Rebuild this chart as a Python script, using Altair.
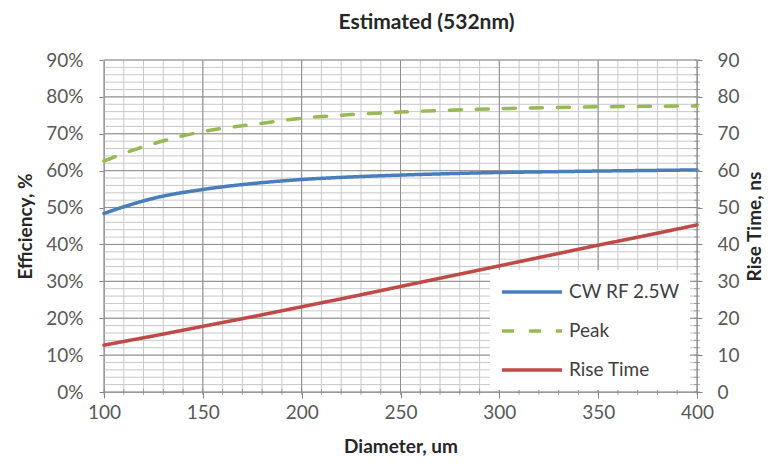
import altair as alt
import pandas as pd

# ---- data ----
diameter = [100, 110, 125, 150, 175, 200, 225, 250, 275, 300, 325, 350, 375, 400]
cw_rf = [0.484, 0.502, 0.525, 0.549, 0.565, 0.576, 0.583, 0.588, 0.592, 0.595, 0.597, 0.599, 0.6005, 0.602]
peak = [0.626, 0.647, 0.673, 0.706, 0.725, 0.742, 0.752, 0.759, 0.764, 0.768, 0.771, 0.773, 0.7745, 0.7755]
rise_time = [12.7, 13.7, 15.2, 17.8, 20.4, 23.1, 25.8, 28.6, 31.4, 34.2, 37.0, 39.8, 42.5, 45.3]

series_names = ["CW RF 2.5W", "Peak", "Rise Time"]
series_colors = ["#4A7EBB", "#98B954", "#BE4B48"]
series_dash = [[1, 0], [12, 15], [1, 0]]

x_major = [100, 150, 200, 250, 300, 350, 400]
x_minor = list(range(100, 401, 10))
y_major = [0.0, 0.1, 0.2, 0.3, 0.4, 0.5, 0.6, 0.7, 0.8, 0.9]
y_minor = [round(i * 0.02, 2) for i in range(46)]
rt_major = [0, 10, 20, 30, 40, 50, 60, 70, 80, 90]
rt_minor = list(range(0, 91, 2))

W, H = 593, 332
FONT = "Lato"
AX = "#868686"
MINOR = "#c8c8c8"
MAJOR = "#8e8e8e"
NBSP = "\u00a0"

eff_df = pd.DataFrame({
    "diameter": diameter * 2,
    "value": cw_rf + peak,
    "series": [series_names[0]] * len(diameter) + [series_names[1]] * len(diameter),
})
rise_df = pd.DataFrame({"diameter": diameter, "rise": rise_time, "series": series_names[2]})

xscale = alt.Scale(domain=[100, 400], nice=False, zero=False)
yscale = alt.Scale(domain=[0, 0.9], nice=False)
rscale = alt.Scale(domain=[0, 90], nice=False)

legend = alt.Legend(labelExpr="datum.label + '" + NBSP * 4 + "'")
color = alt.Color("series:N", scale=alt.Scale(domain=series_names, range=series_colors),
                  title=None, legend=legend)
dash = alt.StrokeDash("series:N", scale=alt.Scale(domain=series_names, range=series_dash),
                      title=None, legend=legend)

x_axis = alt.Axis(values=x_major, title="Diameter, um", format="d", grid=False,
                  labelOverlap=False, labelFlush=False,
                  tickSize=6, labelPadding=5, titleX=W / 2, titleY=54, titleBaseline="middle")
left_axis = alt.Axis(values=y_major, format=".0%", title="Efficiency, %", grid=False,
                     labelOverlap=False, labelFlush=False,
                     tickSize=5, labelPadding=16, titleAngle=270, titleX=-79, titleY=H / 2,
                     titleBaseline="middle", titleAlign="center")
right_axis = alt.Axis(values=rt_major, format="d", title="Rise Time, ns", grid=False, orient="right",
                      labelOverlap=False, labelFlush=False,
                      tickSize=5, labelPadding=15, titleAngle=270, titleX=57, titleY=H / 2,
                      titleBaseline="middle", titleAlign="center")

def vgrid(vals, col):
    return alt.Chart(pd.DataFrame({"diameter": vals})).mark_rule(color=col, strokeWidth=1).encode(
        x=alt.X("diameter:Q", scale=xscale, axis=x_axis))

def hgrid(vals, col):
    return alt.Chart(pd.DataFrame({"value": vals})).mark_rule(color=col, strokeWidth=1).encode(
        y=alt.Y("value:Q", scale=yscale, axis=left_axis))

bottom_minor = alt.Chart(pd.DataFrame({"diameter": x_minor})).mark_tick(
    orient="vertical", size=6, thickness=1, color=AX).encode(
    x=alt.X("diameter:Q", scale=xscale, axis=x_axis), y=alt.value(H))

eff_lines = alt.Chart(eff_df).mark_line(strokeWidth=3.5, strokeCap="round", interpolate="monotone").encode(
    x=alt.X("diameter:Q", scale=xscale, axis=x_axis),
    y=alt.Y("value:Q", scale=yscale, axis=left_axis),
    color=color, strokeDash=dash)

left_group = alt.layer(vgrid(x_minor, MINOR), hgrid(y_minor, MINOR),
                       vgrid(x_major, MAJOR), hgrid(y_major, MAJOR),
                       bottom_minor, eff_lines)

right_minor = alt.Chart(pd.DataFrame({"rise": rt_minor})).mark_tick(
    orient="horizontal", size=6, thickness=1, color=AX).encode(
    y=alt.Y("rise:Q", scale=rscale, axis=right_axis), x=alt.value(W))

rise_line = alt.Chart(rise_df).mark_line(strokeWidth=3.5, strokeCap="round", interpolate="monotone").encode(
    x=alt.X("diameter:Q", scale=xscale, axis=x_axis),
    y=alt.Y("rise:Q", scale=rscale, axis=right_axis),
    color=color, strokeDash=dash)

right_group = alt.layer(right_minor, rise_line)

chart = alt.layer(left_group, right_group).resolve_scale(y="independent").properties(
    width=W, height=H,
    autosize=alt.AutoSizeParams(type="none"),
    padding={"left": 96, "top": 52, "right": 67, "bottom": 65},
    title=alt.TitleParams("Estimated (532nm)", font=FONT, fontSize=21, fontWeight="bold",
                          color="#262626", anchor="middle", frame="group", dx=26, offset=18),
).configure_view(stroke=None).configure_axis(
    grid=False, labelOverlap=False, labelFlush=False,
    labelFont=FONT, labelFontSize=19, labelColor="#595959",
    titleFont=FONT, titleFontSize=19, titleFontWeight="bold", titleColor="#262626",
    domainColor=AX, tickColor=AX, domainWidth=1, tickWidth=1,
).configure_legend(
    orient="none", legendX=386, legendY=210, fillColor="white", padding=10,
    symbolType="M-1,0H5", symbolSize=400, symbolStrokeWidth=3.5,
    labelFont=FONT, labelFontSize=19, labelColor="#404040", labelOffset=45, rowPadding=17,
)

chart.save("out.html", embed_options={"renderer": "svg", "actions": False})
